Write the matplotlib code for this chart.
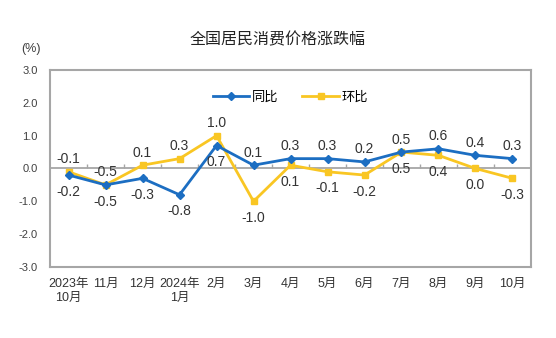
import matplotlib
matplotlib.use("Agg")
import matplotlib.pyplot as plt

plt.rcParams['font.family'] = ['Liberation Sans', 'Noto Sans CJK SC', 'DejaVu Sans']

categories = ["2023年\n10月", "11月", "12月", "2024年\n1月", "2月", "3月", "4月",
              "5月", "6月", "7月", "8月", "9月", "10月"]
yoy = [-0.2, -0.5, -0.3, -0.8, 0.7, 0.1, 0.3, 0.3, 0.2, 0.5, 0.6, 0.4, 0.3]
mom = [-0.1, -0.5, 0.1, 0.3, 1.0, -1.0, 0.1, -0.1, -0.2, 0.5, 0.4, 0.0, -0.3]
yoy_label_pos = ["below"] * 5 + ["above"] * 8
mom_label_pos = ["above"] * 5 + ["below"] * 8
yticks = [3.0, 2.0, 1.0, 0.0, -1.0, -2.0, -3.0]

blue = "#1C6EC2"
yellow = "#F9C623"

fig = plt.figure(figsize=(5.56, 3.38), dpi=100)
ax = fig.add_axes([0.09, 0.21, 0.865, 0.583])

x = list(range(len(categories)))
ax.plot(x, yoy, color=blue, lw=2.0, marker="D", ms=4.5, label="同比", zorder=4)
ax.plot(x, mom, color=yellow, lw=2.0, marker="s", ms=4.5, label="环比", zorder=3)

for xs, vals, pos in [(x, yoy, yoy_label_pos), (x, mom, mom_label_pos)]:
    for xi, v, p in zip(xs, vals, pos):
        off = 9 if p == "above" else -12
        ax.annotate(f"{v:.1f}", (xi, v), xytext=(0, off), textcoords="offset points",
                    ha="center", va="center", fontsize=10, color="#333333", zorder=5)

ax.set_xlim(-0.5, len(categories) - 0.5)
ax.set_ylim(-3.0, 3.0)
ax.set_yticks(yticks)
ax.set_yticklabels([f"{t:.1f}" for t in yticks])
ax.set_xticks(x)
ax.set_xticklabels(categories)
ax.tick_params(axis="y", length=0, pad=9, labelsize=8, labelcolor="#404040")
ax.tick_params(axis="x", length=0, pad=8, labelsize=9, labelcolor="#333333")

for s in ax.spines.values():
    s.set_color("#A6A6A6")
    s.set_linewidth(1.5)

ax.axhline(0, color="#A6A6A6", lw=1.3, zorder=1)
bx = [i + 0.5 for i in range(len(categories) - 1)]
ax.vlines(bx, 0, 0.13, color="#A6A6A6", lw=1.0, zorder=1)

ax.legend(loc="center", bbox_to_anchor=(0.5, 0.86), ncol=2, frameon=False,
          fontsize=9.5, handlelength=2.8, columnspacing=1.8, handletextpad=0.2)

fig.text(0.5, 0.882, "全国居民消费价格涨跌幅", ha="center", va="center", fontsize=11.5, color="#222222")
fig.text(0.056, 0.855, "(%)", ha="center", va="center", fontsize=9, color="#404040")

fig.savefig("out.png", dpi=100, facecolor="white")
